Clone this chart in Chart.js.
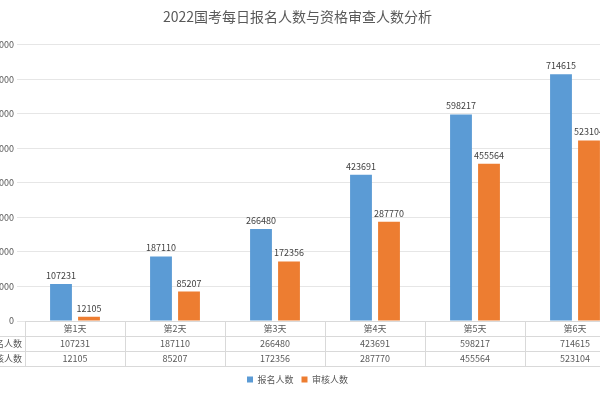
<!DOCTYPE html>
<html>
<head>
<meta charset="utf-8">
<script src="https://cdn.jsdelivr.net/npm/chart.js@4/dist/chart.umd.min.js"></script>
<style>
  body { margin: 0; overflow: hidden; background: #fff; }
  #wrap { position: absolute; left: -35px; top: 0; width: 665px; height: 400px; }
</style>
</head>
<body>
<div id="wrap"><canvas id="chart" width="665" height="400"></canvas></div>
<script>
const days = ["第1天", "第2天", "第3天", "第4天", "第5天", "第6天"];
const signup = [107231, 187110, 266480, 423691, 598217, 714615];
const review = [12105, 85207, 172356, 287770, 455564, 523104];
const seriesNames = ["报名人数", "审核人数"];

const font = "'Noto Sans CJK SC', 'Noto Sans', sans-serif";

// data labels above bars + data table under the axis
const extras = {
    id: "extras",
    afterDatasetsDraw(chart) {
        const ctx = chart.ctx;
        ctx.save();
        ctx.font = "9px " + font;
        ctx.fillStyle = "#404040";
        ctx.textAlign = "center";
        ctx.textBaseline = "bottom";
        chart.data.datasets.forEach((ds, i) => {
            chart.getDatasetMeta(i).data.forEach((bar, j) => {
                ctx.fillText(ds.data[j], bar.x, bar.y - 4);
            });
        });
        ctx.restore();
    },
    afterDraw(chart) {
        const ctx = chart.ctx;
        const x = chart.scales.x;
        const area = chart.chartArea;
        const rowH = 15;
        const top = area.bottom;
        const left = 10;
        ctx.save();
        ctx.strokeStyle = "#d9d9d9";
        ctx.lineWidth = 1;
        ctx.beginPath();
        for (let r = 1; r <= 3; r++) {
            ctx.moveTo(left, top + r * rowH + 0.5);
            ctx.lineTo(area.right, top + r * rowH + 0.5);
        }
        ctx.moveTo(left, top + rowH);
        ctx.lineTo(left, top + 3 * rowH);
        for (let i = 0; i <= days.length; i++) {
            const px = Math.round(area.left + i * (area.right - area.left) / days.length) + 0.5;
            ctx.moveTo(px, top);
            ctx.lineTo(px, top + 3 * rowH);
        }
        ctx.stroke();
        ctx.font = "9px " + font;
        ctx.fillStyle = "#595959";
        ctx.textAlign = "center";
        ctx.textBaseline = "middle";
        days.forEach((d, i) => {
            const px = x.getPixelForValue(i);
            ctx.fillText(d, px, top + rowH * 0.5);
            ctx.fillText(signup[i], px, top + rowH * 1.5);
            ctx.fillText(review[i], px, top + rowH * 2.5);
        });
        ctx.textAlign = "right";
        ctx.fillText(seriesNames[0], area.left - 3, top + rowH * 1.5);
        ctx.fillText(seriesNames[1], area.left - 3, top + rowH * 2.5);
        ctx.restore();
    }
};

new Chart(document.getElementById("chart"), {
    type: "bar",
    data: {
        labels: days,
        datasets: [
            { label: seriesNames[0], data: signup, backgroundColor: "#5b9bd5",
              categoryPercentage: 0.56, barPercentage: 0.78 },
            { label: seriesNames[1], data: review, backgroundColor: "#ed7d31",
              categoryPercentage: 0.56, barPercentage: 0.78 }
        ]
    },
    options: {
        responsive: false,
        animation: false,
        layout: { padding: { left: 5, right: 5, top: 0, bottom: 6 } },
        plugins: {
            title: {
                display: true,
                text: "2022国考每日报名人数与资格审查人数分析",
                color: "#595959",
                font: { family: font, size: 14, weight: "normal" },
                padding: { top: 8, bottom: 20 }
            },
            legend: {
                position: "bottom",
                labels: { boxWidth: 6, boxHeight: 6, color: "#595959",
                          font: { family: font, size: 9 }, padding: 8 }
            },
            tooltip: { enabled: false }
        },
        scales: {
            x: {
                grid: { display: false },
                border: { color: "#d9d9d9" },
                ticks: { display: false },
                afterFit(scale) { scale.height = 46; }
            },
            y: {
                min: 0, max: 800000,
                ticks: { stepSize: 100000, color: "#595959",
                         font: { family: font, size: 9 } },
                grid: { color: "#e6e6e6" },
                border: { display: false },
                afterFit(scale) { scale.width = 55; }
            }
        }
    },
    plugins: [extras]
});
</script>
</body>
</html>
